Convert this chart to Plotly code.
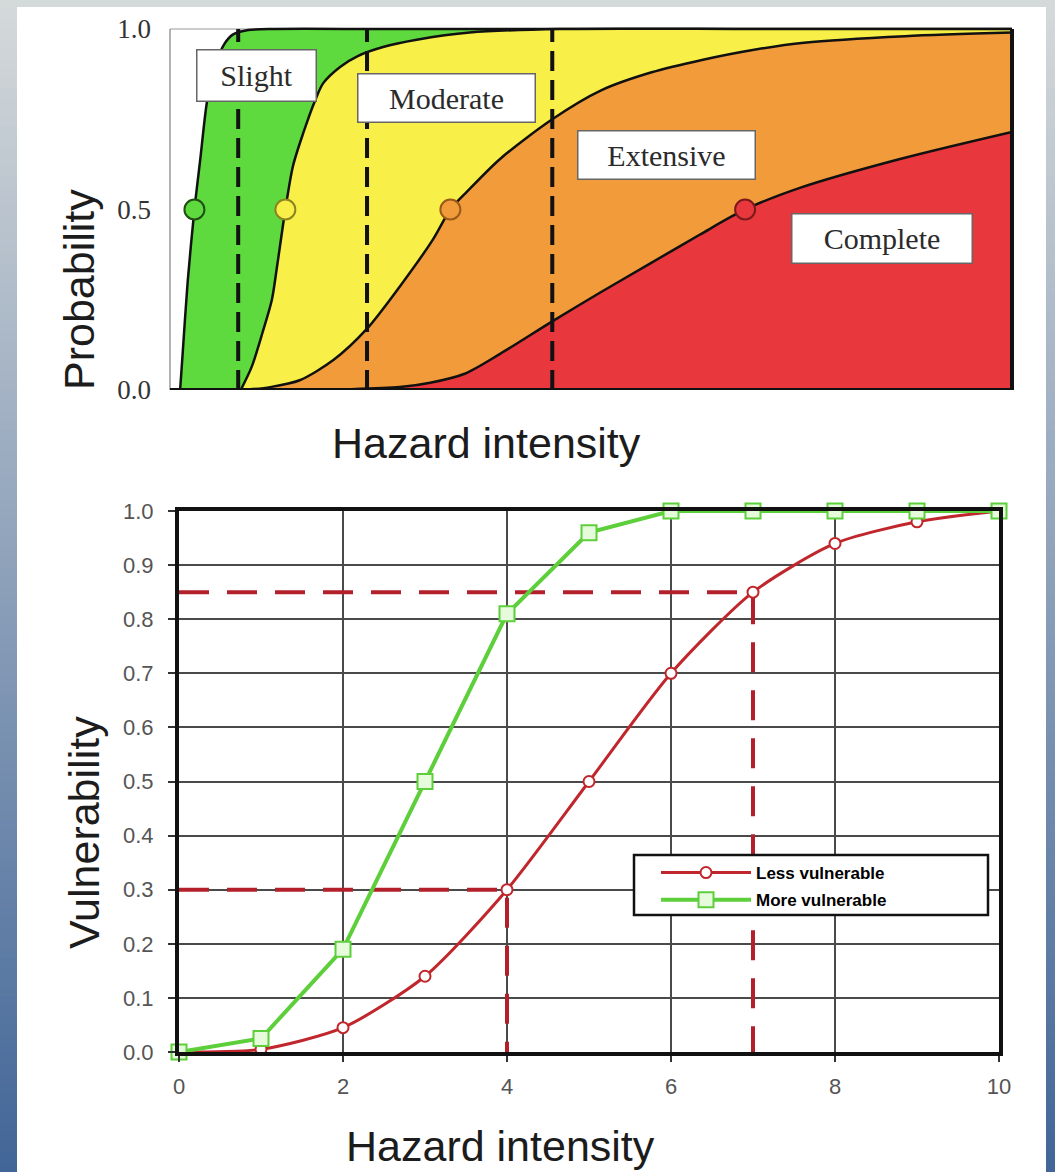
import plotly.graph_objects as go

W, H = 1055, 1172

# ---------------- Fragility curves (upper panel, unlabelled 0-10 intensity scale) ----------------
damage_states = ["Slight", "Moderate", "Extensive", "Complete"]

slight_x = [0.12, 0.15, 0.21, 0.29, 0.36, 0.44, 0.53, 0.65, 0.75, 0.93, 1.25, 2.5, 5.0, 10.0]
slight_p = [0.0, 0.1, 0.3, 0.5, 0.64, 0.8, 0.895, 0.96, 0.985, 0.997, 1.0, 1.0, 1.0, 1.0]

moderate_x = [0.84, 0.97, 1.10, 1.21, 1.27, 1.37, 1.46, 1.58, 1.72, 1.82, 2.02, 2.23, 2.53, 2.93, 3.56, 4.63, 7.0, 10.0]
moderate_p = [0.0, 0.064, 0.16, 0.25, 0.34, 0.5, 0.62, 0.71, 0.80, 0.85, 0.895, 0.925, 0.95, 0.97, 0.99, 1.0, 1.0, 1.0]

extensive_x = [0.87, 1.19, 1.54, 1.94, 2.34, 2.73, 3.12, 3.33, 3.53, 3.92, 4.54, 5.12, 5.72, 6.33, 6.92, 7.53, 8.73, 10.0]
extensive_p = [0.0, 0.008, 0.027, 0.083, 0.17, 0.287, 0.416, 0.5, 0.55, 0.64, 0.75, 0.83, 0.88, 0.915, 0.942, 0.962, 0.98, 0.99]

complete_x = [1.54, 2.14, 2.73, 3.09, 3.50, 3.92, 4.54, 5.11, 5.70, 6.29, 6.83, 7.48, 8.67, 10.0]
complete_p = [0.0, 0.002, 0.008, 0.02, 0.045, 0.10, 0.19, 0.27, 0.35, 0.43, 0.5, 0.56, 0.64, 0.715]

median_x = [0.29, 1.37, 3.33, 6.83]
threshold_x = [0.81, 2.34, 4.54]

prob_ticks = [0.0, 0.5, 1.0]
prob_ticktext = ["0.0", "0.5", "1.0"]

# ---------------- Vulnerability curves (lower panel) ----------------
intensity = [0, 1, 2, 3, 4, 5, 6, 7, 8, 9, 10]
less_vulnerable = [0.0, 0.005, 0.045, 0.14, 0.30, 0.50, 0.70, 0.85, 0.94, 0.98, 1.0]
more_vulnerable = [0.0, 0.025, 0.19, 0.50, 0.81, 0.96, 1.0, 1.0, 1.0, 1.0, 1.0]
series_names = ["Less vulnerable", "More vulnerable"]
ref_intensity = [4, 7]
ref_vulnerability = [less_vulnerable[intensity.index(v)] for v in ref_intensity]


# ---------------- helpers ----------------
def px_x(p):
    return p / W


def px_y(p):
    return 1 - p / H


SANS = "Liberation Sans, Arial, sans-serif"
SERIF = "Liberation Serif, Times New Roman, serif"

state_fill = ["#5fda3e", "#f8ef48", "#f29b3a", "#e8383d"]
state_edge = ["#1f4d12", "#8c8420", "#9a5a1a", "#7a1a1c"]

fig = go.Figure()

# filled bands: each curve is filled down to zero, later states painted over earlier ones
curves = [(slight_x, slight_p), (moderate_x, moderate_p),
          (extensive_x, extensive_p), (complete_x, complete_p)]
for (cx, cp), fc in zip(curves, state_fill):
    fig.add_trace(go.Scatter(
        x=cx, y=cp, mode="lines", fill="tozeroy", fillcolor=fc,
        line=dict(color="#111111", width=2.5, shape="spline", smoothing=0.8),
        showlegend=False, hoverinfo="skip", xaxis="x", yaxis="y"))

# threshold intensities (vertical dashed lines)
for tx in threshold_x:
    fig.add_trace(go.Scatter(
        x=[tx, tx], y=[prob_ticks[0], prob_ticks[-1]], mode="lines",
        line=dict(color="#111111", width=4, dash="20px,9px"),
        showlegend=False, hoverinfo="skip", xaxis="x", yaxis="y"))

# medians of each fragility curve
median_p = [cp[cx.index(mx)] for (cx, cp), mx in zip(curves, median_x)]
fig.add_trace(go.Scatter(
    x=median_x, y=median_p, mode="markers",
    marker=dict(size=20, color=state_fill, line=dict(color=state_edge, width=2)),
    showlegend=False, hoverinfo="skip", cliponaxis=False, xaxis="x", yaxis="y"))

# reference readings on the lower panel (dashed red guides)
for rx, ry in zip(ref_intensity, ref_vulnerability):
    fig.add_trace(go.Scatter(
        x=[intensity[0], rx, rx], y=[ry, ry, 0], mode="lines",
        line=dict(color="#b3202b", width=4, dash="30px,18px"),
        showlegend=False, hoverinfo="skip", xaxis="x2", yaxis="y2"))

fig.add_trace(go.Scatter(
    x=intensity, y=less_vulnerable, mode="lines+markers", name=series_names[0],
    line=dict(color="#c0262b", width=3, shape="spline", smoothing=0.7),
    marker=dict(symbol="circle", size=11, color="white", line=dict(color="#c0262b", width=2)),
    cliponaxis=False, legendgroup="a", xaxis="x2", yaxis="y2"))
fig.add_trace(go.Scatter(
    x=intensity, y=more_vulnerable, mode="lines+markers", name=series_names[1],
    line=dict(color="#5ccf3a", width=4),
    marker=dict(symbol="square", size=15, color="#e6fbdc", line=dict(color="#5ccf3a", width=2)),
    cliponaxis=False, legendgroup="b", xaxis="x2", yaxis="y2"))

# ---------------- background: vertical gradient with a white sheet ----------------
shapes = []
n_bands = 120
top_rgb = (213, 217, 218)
bot_rgb = (66, 102, 152)
for i in range(n_bands):
    t = (i + 0.5) / n_bands
    c = tuple(round(a + (b - a) * t) for a, b in zip(top_rgb, bot_rgb))
    shapes.append(dict(type="rect", xref="paper", yref="paper", layer="below",
                       x0=0, x1=1, y0=max(0, 1 - (i + 1) / n_bands - 0.001), y1=1 - i / n_bands,
                       line=dict(width=0), fillcolor="rgb(%d,%d,%d)" % c))
shapes.append(dict(type="rect", xref="paper", yref="paper", layer="below",
                   x0=px_x(17), x1=px_x(1046), y0=0, y1=px_y(7),
                   line=dict(width=0), fillcolor="white"))

# frame of the upper panel
shapes += [
    dict(type="line", xref="x domain", yref="y", x0=0, x1=0, y0=0, y1=1,
         line=dict(color="#9a9a9a", width=1.5), layer="above"),
    dict(type="line", xref="x domain", yref="y", x0=0, x1=1, y0=1, y1=1,
         line=dict(color="#9a9a9a", width=1.2), layer="below"),
    dict(type="line", xref="x domain", yref="y", x0=0, x1=1, y0=0, y1=0,
         line=dict(color="#111111", width=4), layer="above"),
    dict(type="line", xref="x domain", yref="y", x0=1, x1=1, y0=0, y1=1,
         line=dict(color="#111111", width=4), layer="above"),
]

# legend frame of the lower panel
shapes.append(dict(type="rect", xref="paper", yref="paper", layer="above",
                   x0=px_x(634), x1=px_x(988), y0=px_y(915), y1=px_y(855),
                   line=dict(color="#111111", width=2.5), fillcolor="white"))

# ---------------- annotations ----------------
annotations = []
label_boxes = {  # centre (intensity, probability) and box size in px
    "Slight": (1.03, 0.870, 118, 50),
    "Moderate": (3.28, 0.810, 176, 47),
    "Extensive": (5.90, 0.652, 176, 47),
    "Complete": (8.46, 0.420, 179, 48),
}
for s in damage_states:
    bx, by, bw, bh = label_boxes[s]
    annotations.append(dict(
        text=s, x=bx, y=by, xref="x", yref="y", showarrow=False,
        xanchor="center", yanchor="middle",
        font=dict(family=SERIF, size=30, color="#2b2b2b"),
        bgcolor="white", bordercolor="#666666", borderwidth=1.5, borderpad=0,
        width=bw, height=bh, align="center", valign="middle"))

title_font = dict(family=SANS, size=43, color="#1c1c1c")
annotations += [
    dict(text="Probability", x=px_x(79), y=px_y(290), xref="paper", yref="paper",
         textangle=-90, showarrow=False, font=title_font, xanchor="center", yanchor="middle"),
    dict(text="Hazard intensity", x=px_x(486), y=px_y(443), xref="paper", yref="paper",
         showarrow=False, font=title_font, xanchor="center", yanchor="middle"),
    dict(text="Vulnerability", x=px_x(84), y=px_y(833), xref="paper", yref="paper",
         textangle=-90, showarrow=False, font=title_font, xanchor="center", yanchor="middle"),
    dict(text="Hazard intensity", x=px_x(500), y=px_y(1146), xref="paper", yref="paper",
         showarrow=False, font=title_font, xanchor="center", yanchor="middle"),
]

fig.update_layout(
    width=W, height=H,
    margin=dict(l=0, r=0, t=0, b=0, autoexpand=False),
    paper_bgcolor="white", plot_bgcolor="white",
    shapes=shapes, annotations=annotations,
    showlegend=True,
    legend=dict(x=px_x(656), y=px_y(855), xanchor="left", yanchor="top",
                bgcolor="rgba(0,0,0,0)", borderwidth=0, itemwidth=90,
                tracegroupgap=2, traceorder="grouped",
                font=dict(family=SANS, size=17, color="black", weight="bold")),
    xaxis=dict(domain=[px_x(170), px_x(1012)], range=[0, 10], showgrid=False,
               zeroline=False, showticklabels=False, ticks="", showline=False,
               anchor="y", fixedrange=True, automargin=False),
    yaxis=dict(domain=[px_y(390), px_y(26.1)], range=[0, 1.008], showgrid=False,
               zeroline=False, tickvals=prob_ticks, ticktext=prob_ticktext, ticks="",
               ticklabelstandoff=18, showline=False, anchor="x", automargin=False,
               tickfont=dict(family=SERIF, size=27, color="#333333")),
    xaxis2=dict(domain=[px_x(179), px_x(999)], range=[0, 10], dtick=2, tick0=0,
                showgrid=True, gridcolor="#4a4a4a", gridwidth=2, zeroline=False,
                showline=True, linecolor="#111111", linewidth=4, mirror=True,
                ticks="outside", ticklen=6, tickwidth=2, tickcolor="#333333",
                ticklabelstandoff=6, anchor="y2", automargin=False,
                tickfont=dict(family=SANS, size=22, color="#555555")),
    yaxis2=dict(domain=[px_y(1052), px_y(511)], range=[0, 1], dtick=0.1, tick0=0,
                tickformat=".1f", showgrid=True, gridcolor="#4a4a4a", gridwidth=2,
                zeroline=False, showline=True, linecolor="#111111", linewidth=4,
                mirror=True, ticks="outside", ticklen=7, tickwidth=2,
                tickcolor="#333333", ticklabelstandoff=10, anchor="x2", automargin=False,
                tickfont=dict(family=SANS, size=22, color="#555555")),
)

# drop the default page margin right after the plot call so the figure fills the window exactly
fig.write_html("out.html", post_script=(
    "});\n"
    "document.body.style.margin = '0';\n"
    "document.body.style.overflow = 'hidden';\n"
    "(function(){"))
